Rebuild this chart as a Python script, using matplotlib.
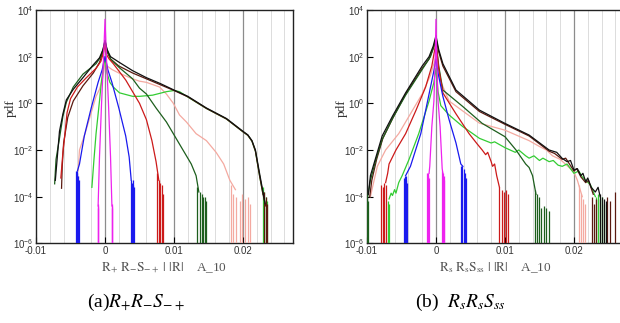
import numpy as np
import matplotlib
matplotlib.use('Agg')
import matplotlib.pyplot as plt

plt.rcParams['mathtext.fontset'] = 'stix'

# ── Data (x values, log10 of pdf) ─────────────────────────────────────────────

# panel (a): R+ R- S-+
A_MAG_X = [-0.001, -0.0008, -0.0005, -0.0002, 0, 0.0002, 0.0005, 0.0008, 0.001]
A_MAG_Y = [-4.4, -2.3, 0.0, 2.0, 3.6, 2.0, 0.0, -2.3, -4.4]
A_MAG_BX = [-0.00105, -0.001, -0.00095, 0.00095, 0.001, 0.00105]
A_MAG_BT = [-4.5, -4.4, -4.3, -4.3, -4.4, -4.5]

A_BLUE_X = [-0.0040, -0.0037, -0.003, -0.002, -0.001, -0.0004, -0.0002, 0,
            0.0002, 0.0004, 0.001, 0.002, 0.003, 0.0035, 0.0038]
A_BLUE_Y = [-2.9, -2.6, -1.4, -0.2, 0.9, 1.45, 1.75, 2.0,
            1.75, 1.45, 0.9, -0.2, -1.4, -2.3, -3.3]
A_BLUE_BX = [-0.0042, -0.0041, -0.0040, -0.0039, -0.0038, 0.0038, 0.0039, 0.0040, 0.0041, 0.0042]
A_BLUE_BT = [-2.9, -3.0, -2.9, -3.1, -3.3, -3.3, -3.4, -3.3, -3.5, -3.6]

A_RED_X = [-0.0064, -0.0061, -0.0058, -0.0055, -0.005, -0.004, -0.0027, -0.0013, -0.0006, -0.0002, 0,
           0.0002, 0.0006, 0.0012, 0.003, 0.005, 0.006, 0.0068, 0.0074, 0.0078]
A_RED_Y = [-3.2, -2.1, -1.3, -0.4, 0.2, 0.7, 1.1, 1.5, 1.8, 2.2, 2.5,
           2.1, 1.9, 1.7, 1.0, 0.0, -0.7, -1.6, -2.5, -3.3]
A_RED_BX = [0.0076, 0.0078, 0.0080, 0.0082, 0.0084]
A_RED_BT = [-3.0, -3.3, -3.4, -3.5, -3.9]

A_DKG_X = [-0.0073, -0.0071, -0.0066, -0.0061, -0.0056, -0.0046, -0.0032, -0.0013, -0.0006, -0.0002, 0,
           0.0002, 0.0008, 0.002, 0.004, 0.005, 0.006, 0.0074, 0.0089, 0.0103, 0.0115, 0.0125, 0.0132, 0.0136]
A_DKG_Y = [-3.45, -2.4, -1.5, -0.55, 0.05, 0.7, 1.25, 1.7, 2.0, 2.4, 2.7,
           2.4, 1.9, 1.55, 1.05, 0.65, 0.4, -0.2, -0.8, -1.5, -2.1, -2.6, -3.1, -3.8]
A_DKG_BX = [0.0134, 0.0137, 0.0140, 0.0142, 0.0145, 0.0147]
A_DKG_BT = [-3.6, -3.8, -3.9, -4.0, -4.0, -4.2]

A_BLK_X = [-0.0072, -0.0070, -0.0068, -0.0066, -0.0061, -0.0056, -0.0046, -0.0032, -0.0017, -0.0008, -0.0003, 0,
           0.0003, 0.0008, 0.0021, 0.004, 0.005, 0.006, 0.008, 0.010, 0.012, 0.0147, 0.0176, 0.020,
           0.0207, 0.0213, 0.0218, 0.0224, 0.0229, 0.0232]
A_BLK_Y = [-3.3, -2.6, -1.9, -1.2, -0.45, 0.15, 0.6, 1.1, 1.65, 1.95, 2.3, 2.7,
           2.3, 2.0, 1.75, 1.4, 1.25, 1.1, 0.85, 0.57, 0.3, -0.2, -0.65, -1.2,
           -1.35, -1.6, -2.0, -3.0, -3.8, -4.3]

A_BRN_X = [-0.0063, -0.0062, -0.0060, -0.0054, -0.0046, -0.0032, -0.0017, -0.0008, -0.0003, 0,
           0.0003, 0.0008, 0.002, 0.004, 0.006, 0.008, 0.010, 0.012, 0.0147, 0.0176, 0.020,
           0.0207, 0.0213, 0.0218, 0.0224, 0.0229, 0.0233]
A_BRN_Y = [-3.64, -2.7, -1.7, -0.6, 0.1, 0.75, 1.3, 1.75, 2.2, 2.6,
           2.2, 1.9, 1.6, 1.3, 1.05, 0.8, 0.55, 0.28, -0.22, -0.67, -1.22,
           -1.37, -1.62, -2.05, -3.1, -3.9, -4.4]
A_BRN_BX = [0.0231, 0.0233, 0.0235]
A_BRN_BT = [-3.8, -4.0, -4.3]

A_SAL_X = [-0.0039, -0.0037, -0.0029, -0.0022, -0.0013, -0.0008, -0.0004, -0.0001, 0,
           0.0003, 0.001, 0.002, 0.004, 0.005, 0.006, 0.0079, 0.0089, 0.0099, 0.0108, 0.0118,
           0.0132, 0.0147, 0.0161, 0.0172, 0.0181, 0.0189]
A_SAL_Y = [-2.9, -2.0, -1.3, -0.6, 0.3, 0.6, 1.0, 1.5, 1.8,
           1.6, 1.45, 1.3, 1.05, 0.95, 0.9, 0.7, 0.4, 0.0, -0.5, -0.8,
           -1.3, -1.6, -2.1, -2.6, -3.3, -3.7]
A_SAL_BX = [-0.0040, -0.0039, 0.0183, 0.0186, 0.0190, 0.0195, 0.0198, 0.0203, 0.0207, 0.0210]
A_SAL_BT = [-3.0, -3.1, -3.5, -3.9, -4.0, -4.2, -3.9, -4.1, -4.0, -4.3]

A_GRN_X = [-0.0019, -0.0016, -0.0013, -0.0008, -0.0005, -0.0002, 0,
           0.0003, 0.0007, 0.0012, 0.0021, 0.004, 0.005, 0.0069, 0.0089, 0.010, 0.0108, 0.012,
           0.0147, 0.0176, 0.020, 0.0207, 0.0213, 0.0218, 0.0224, 0.0229]
A_GRN_Y = [-3.6, -2.4, -1.3, 0.1, 1.0, 1.6, 2.0,
           1.3, 0.9, 0.7, 0.45, 0.3, 0.3, 0.35, 0.5, 0.55, 0.5, 0.27,
           -0.22, -0.67, -1.22, -1.37, -1.62, -2.05, -3.1, -3.9]
A_GRN_BX = [0.0229, 0.0231, 0.0233, 0.0235]
A_GRN_BT = [-3.6, -3.8, -4.0, -4.2]

# panel (b): Rs Rs Sss
B_MAG_X = [-0.001, -0.0009, -0.0006, -0.0003, -0.0001, 0, 0.0001, 0.0003, 0.0006, 0.0009, 0.001]
B_MAG_Y = [-3.0, -2.7, -1.0, 0.1, 2.0, 3.6, 2.0, 0.1, -1.0, -2.8, -3.0]
B_MAG_BX = [-0.0013, -0.0012, -0.0011, -0.0010, 0.0009, 0.0010, 0.0011, 0.0012]
B_MAG_BT = [-3.0, -3.1, -3.0, -3.2, -2.9, -3.0, -3.1, -3.3]

B_BLUE_X = [-0.0044, -0.0037, -0.0022, -0.001, -0.0003, 0, 0.0003, 0.001, 0.0019, 0.0029, 0.0036, 0.0039]
B_BLUE_Y = [-3.1, -2.7, -1.3, 0.4, 1.4, 1.9, 1.3, 0.3, -0.7, -1.7, -2.6, -2.7]
B_BLUE_BX = [-0.0046, -0.0045, -0.0044, -0.0043, -0.0042, 0.0036, 0.0038, 0.0040, 0.0042, 0.0043]
B_BLUE_BT = [-3.2, -3.1, -3.1, -3.3, -3.4, -2.7, -2.7, -2.8, -3.0, -3.2]

B_GRN_X = [-0.0068, -0.0065, -0.0063, -0.0060, -0.0058, -0.0054, -0.0049, -0.0039, -0.0025, -0.001, -0.0003, 0,
           0.0003, 0.0007, 0.0019, 0.0039, 0.0063, 0.0080, 0.0085, 0.010, 0.0115, 0.012, 0.013, 0.0135,
           0.0142, 0.015, 0.0155, 0.0164, 0.017, 0.0177, 0.0183, 0.019, 0.020, 0.0207, 0.0212, 0.0217, 0.0224, 0.0231]
B_GRN_Y = [-4.1, -3.85, -3.95, -3.7, -3.85, -3.4, -3.1, -2.4, -1.3, 0.1, 0.9, 1.5,
           0.5, -0.1, -0.5, -1.0, -1.5, -1.7, -1.65, -1.9, -2.1, -2.0, -2.25, -2.35,
           -2.25, -2.45, -2.35, -2.5, -2.45, -2.65, -2.7, -2.6, -3.0, -2.9, -3.15, -3.3, -3.5, -4.0]
B_GRN_BX = [-0.0069, -0.0068, 0.0232, 0.0235, 0.0238, 0.0241, 0.0244]
B_GRN_BT = [-4.2, -4.3, -4.0, -3.9, -4.1, -4.0, -4.3]

B_RED_X = [-0.0073, -0.0070, -0.0068, -0.0063, -0.0058, -0.0044, -0.0029, -0.0015, -0.0006, 0,
           0.0004, 0.001, 0.0029, 0.0048, 0.0060, 0.0067, 0.0072, 0.0075, 0.0080, 0.0082, 0.0085, 0.0088, 0.0092]
B_RED_Y = [-3.4, -3.0, -2.6, -2.3, -2.0, -1.3, -0.3, 0.7, 1.6, 2.6,
           1.5, 0.45, -0.45, -1.3, -1.75, -2.0, -2.2, -2.1, -2.5, -2.7, -2.6, -3.1, -3.6]
B_RED_BX = [-0.0079, -0.0077, -0.0075, -0.0073, 0.0092, 0.0095, 0.0098, 0.0101, 0.0104]
B_RED_BT = [-3.5, -3.6, -3.4, -3.5, -3.6, -3.7, -3.8, -3.7, -3.9]

B_SAL_X = [-0.0095, -0.0092, -0.0085, -0.0073, -0.0054, -0.0034, -0.002, -0.0008, 0,
           0.0006, 0.0019, 0.0063, 0.010, 0.0135, 0.015, 0.016, 0.0169, 0.018, 0.0193, 0.0200, 0.0205, 0.0212]
B_SAL_Y = [-4.0, -3.6, -2.7, -2.0, -1.3, -0.3, 0.4, 1.2, 2.0,
           1.0, 0.1, -0.85, -1.15, -1.6, -1.85, -2.0, -2.25, -2.4, -2.75, -2.95, -3.3, -4.0]
B_SAL_BX = [0.0207, 0.0210, 0.0213, 0.0216]
B_SAL_BT = [-3.5, -3.9, -4.1, -4.3]

B_DKG_X = [-0.0099, -0.0095, -0.0087, -0.0078, -0.0063, -0.0044, -0.002, -0.0008, 0,
           0.0004, 0.001, 0.0039, 0.0067, 0.010, 0.0116, 0.0123, 0.013, 0.0135, 0.014, 0.0145]
B_DKG_Y = [-4.0, -3.3, -2.4, -1.55, -0.65, 0.35, 1.45, 2.0, 2.7,
           1.6, 0.57, -0.14, -0.86, -1.43, -2.0, -2.3, -2.6, -2.75, -3.1, -3.9]
B_DKG_BX = [-0.0100, -0.0099, 0.0143, 0.0146, 0.0149, 0.0152, 0.0157, 0.0160, 0.0164]
B_DKG_BT = [-4.0, -4.2, -3.7, -3.9, -4.0, -4.5, -4.4, -4.5, -4.6]

B_BLK_X = [-0.0098, -0.0095, -0.0087, -0.0078, -0.0063, -0.0044, -0.002, -0.001, -0.0004, 0,
           0.0004, 0.001, 0.0029, 0.0063, 0.010, 0.0135, 0.0164, 0.0175, 0.0183, 0.019, 0.0195,
           0.020, 0.0205, 0.021, 0.0213, 0.0217, 0.022, 0.0225, 0.0231, 0.0235, 0.0238]
B_BLK_Y = [-3.9, -3.1, -2.3, -1.4, -0.55, 0.45, 1.6, 2.0, 2.45, 2.9,
           2.3, 1.7, 0.57, -0.29, -0.86, -1.36, -2.0, -2.1, -2.36, -2.5, -2.45,
           -2.86, -2.8, -3.1, -3.0, -3.36, -3.2, -3.6, -3.8, -3.6, -4.0]
B_BLK_BX = [0.0238, 0.0241, 0.0244, 0.0247]
B_BLK_BT = [-3.9, -4.0, -4.1, -4.2]

B_BRN_X = [-0.0096, -0.0093, -0.0086, -0.0077, -0.0062, -0.0044, -0.002, -0.001, -0.0004, 0,
           0.0004, 0.001, 0.0029, 0.0063, 0.010, 0.0135, 0.0164, 0.0172, 0.0183, 0.0188,
           0.020, 0.0204, 0.0210, 0.0217, 0.0221, 0.0228]
B_BRN_Y = [-4.0, -3.3, -2.4, -1.5, -0.6, 0.4, 1.5, 1.9, 2.35, 2.8,
           2.2, 1.6, 0.5, -0.35, -0.9, -1.4, -2.05, -2.15, -2.4, -2.35,
           -2.9, -2.8, -3.15, -3.4, -3.3, -3.9]
B_BRN_BX = [0.0226, 0.0229, 0.0232, 0.0248, 0.0252, 0.0259]
B_BRN_BT = [-4.0, -4.3, -4.1, -4.0, -4.2, -3.8]

# ── Styling ───────────────────────────────────────────────────────────────────

C_MAG = '#ee22ee'
C_BLUE = '#1a1aee'
C_GRN = '#33cc33'
C_RED = '#cc1a1a'
C_SAL = '#f4a9a0'
C_DKG = '#1d5e1d'
C_BLK = '#111111'
C_BRN = '#5a1a10'

YMIN = 1e-6


def draw(ax, x, y, color, bx=None, bt=None):
    ax.plot(x, 10 ** np.array(y), color=color, lw=0.9, zorder=3)
    if bx is not None:
        ax.vlines(bx, YMIN, 10 ** np.array(bt), color=color, lw=0.9, zorder=3)


def style_axes(ax, xlabel):
    ax.set_yscale('log')
    ax.set_xlim(-0.01, 0.02725)
    ax.set_ylim(1e-6, 1e4)
    for gx in np.arange(-0.008, 0.027, 0.002):
        if abs(round(gx / 0.01) * 0.01 - gx) < 1e-9:
            ax.axvline(gx, color='#8c8c8c', lw=0.9, zorder=1)
        else:
            ax.axvline(gx, color='#dcdcdc', lw=0.7, zorder=1)
    ax.set_xticks([-0.01, 0, 0.01, 0.02])
    ax.set_xticklabels(['-0.01', '0', '0.01', '0.02'])
    ax.set_yticks([1e-6, 1e-4, 1e-2, 1e0, 1e2, 1e4])
    ax.set_yticklabels([r'$\mathregular{10^{-6}}$', r'$\mathregular{10^{-4}}$',
                        r'$\mathregular{10^{-2}}$', r'$\mathregular{10^{0}}$',
                        r'$\mathregular{10^{2}}$', r'$\mathregular{10^{4}}$'])
    ax.minorticks_off()
    ax.tick_params(direction='in', length=4, width=0.8, labelsize=7,
                   labelcolor='#333333', pad=2)
    for lab in ax.get_xticklabels() + ax.get_yticklabels():
        lab.set_family('Liberation Sans')
    for s in ax.spines.values():
        s.set_linewidth(1.0)
        s.set_color('#222222')
    ax.set_ylabel('pdf', family='Liberation Serif', fontsize=9.5, color='#333333')
    ax.yaxis.set_label_coords(-0.076, 0.58)
    ax.set_xlabel(xlabel, family='Liberation Serif', fontsize=9.5, color='#555555', labelpad=3)


fig = plt.figure(figsize=(6.2, 3.23), dpi=100)
ax_a = fig.add_axes([0.0581, 0.2467, 0.4145, 0.7223])
ax_b = fig.add_axes([0.5919, 0.2467, 0.4145, 0.7223])

# panel (a)
draw(ax_a, A_SAL_X, A_SAL_Y, C_SAL, A_SAL_BX, A_SAL_BT)
draw(ax_a, A_GRN_X, A_GRN_Y, C_GRN, A_GRN_BX, A_GRN_BT)
draw(ax_a, A_BRN_X, A_BRN_Y, C_BRN, A_BRN_BX, A_BRN_BT)
draw(ax_a, A_DKG_X, A_DKG_Y, C_DKG, A_DKG_BX, A_DKG_BT)
draw(ax_a, A_BLK_X, A_BLK_Y, C_BLK)
draw(ax_a, A_RED_X, A_RED_Y, C_RED, A_RED_BX, A_RED_BT)
draw(ax_a, A_BLUE_X, A_BLUE_Y, C_BLUE, A_BLUE_BX, A_BLUE_BT)
draw(ax_a, A_MAG_X, A_MAG_Y, C_MAG, A_MAG_BX, A_MAG_BT)
style_axes(ax_a, r'$\mathrm{R_{+}\ R_{-}S_{-+}\ |\ |R|}$    A_10')

# panel (b)
draw(ax_b, B_SAL_X, B_SAL_Y, C_SAL, B_SAL_BX, B_SAL_BT)
draw(ax_b, B_GRN_X, B_GRN_Y, C_GRN, B_GRN_BX, B_GRN_BT)
draw(ax_b, B_BRN_X, B_BRN_Y, C_BRN, B_BRN_BX, B_BRN_BT)
draw(ax_b, B_DKG_X, B_DKG_Y, C_DKG, B_DKG_BX, B_DKG_BT)
draw(ax_b, B_BLK_X, B_BLK_Y, C_BLK, B_BLK_BX, B_BLK_BT)
draw(ax_b, B_RED_X, B_RED_Y, C_RED, B_RED_BX, B_RED_BT)
draw(ax_b, B_BLUE_X, B_BLUE_Y, C_BLUE, B_BLUE_BX, B_BLUE_BT)
draw(ax_b, B_MAG_X, B_MAG_Y, C_MAG, B_MAG_BX, B_MAG_BT)
style_axes(ax_b, r'$\mathrm{R_{s}\ R_{s}S_{ss}\ |\ |R|}$    A_10')

# captions
fig.text(0.14, 0.065, r'(a)$R_{+}R_{-}S_{-+}$', family='Liberation Serif',
         fontsize=14, ha='left', va='center')
fig.text(0.669, 0.065, r'(b)  $R_{s}R_{s}S_{ss}$', family='Liberation Serif',
         fontsize=14, ha='left', va='center')

fig.savefig('out.png', dpi=100)
